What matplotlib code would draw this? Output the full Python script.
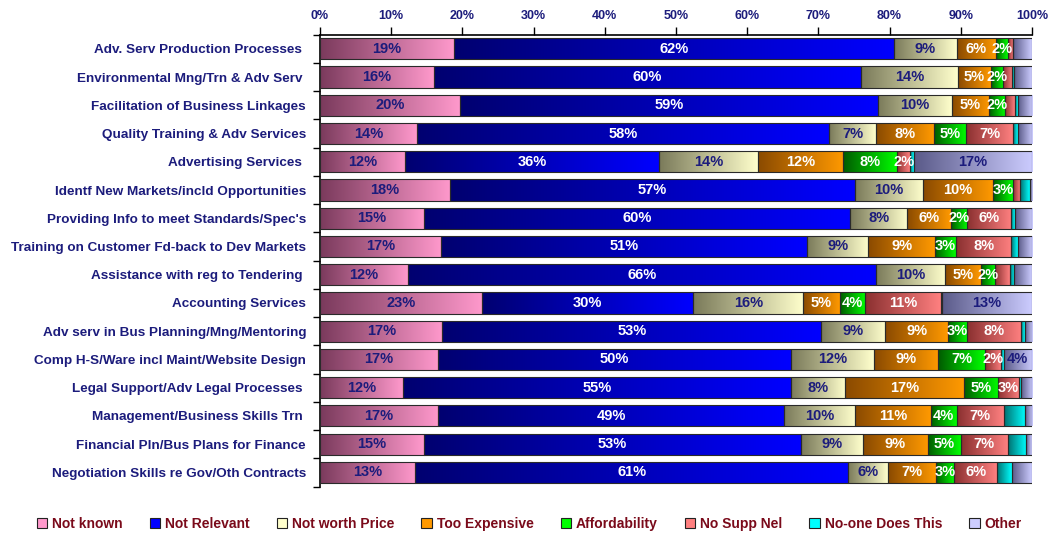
import numpy as np
import matplotlib
matplotlib.use("Agg")
import matplotlib.pyplot as plt
from matplotlib.colors import LinearSegmentedColormap
from matplotlib.patches import Patch

categories = [
    "Adv. Serv Production Processes ",
    "Environmental Mng/Trn & Adv Serv ",
    "Facilitation of Business Linkages",
    "Quality Training & Adv Services",
    "Advertising Services ",
    "Identf New Markets/incld Opportunities",
    "Providing Info to meet Standards/Spec's",
    "Training on Customer Fd-back to Dev Markets",
    "Assistance with reg to Tendering ",
    "Accounting Services",
    "Adv serv in Bus Planning/Mng/Mentoring",
    "Comp H-S/Ware incl Maint/Website Design",
    "Legal Support/Adv Legal Processes ",
    "Management/Business Skills Trn ",
    "Financial Pln/Bus Plans for Finance",
    "Negotiation Skills re Gov/Oth Contracts",
]

series = ["Not known", "Not Relevant", "Not worth Price", "Too Expensive",
          "Affordability", "No Supp Nel", "No-one Does This", "Other"]

# percentages per category, in the order of `categories`
not_known = [18.8, 16.0, 19.6, 13.6, 12.0, 18.3, 14.6, 17.0, 12.3, 22.8, 17.2, 16.6, 11.6, 16.6, 14.6, 13.4]
not_relevant = [61.8, 60.0, 58.8, 57.9, 35.6, 56.8, 59.8, 51.4, 65.8, 29.6, 53.2, 49.6, 54.6, 48.6, 53.0, 60.8]
not_worth = [8.8, 13.6, 10.3, 6.6, 13.9, 9.6, 8.1, 8.6, 9.7, 15.5, 9.0, 11.6, 7.6, 10.0, 8.6, 5.6]
too_expensive = [5.6, 4.6, 5.2, 8.1, 12.0, 9.8, 6.1, 9.4, 5.0, 5.1, 8.8, 9.0, 16.6, 10.6, 9.2, 6.7]
affordability = [1.6, 1.7, 2.3, 4.6, 7.6, 2.8, 2.3, 2.9, 2.0, 3.6, 2.7, 6.6, 4.8, 3.6, 4.6, 2.6]
no_supp = [0.8, 1.3, 1.4, 6.6, 1.8, 1.0, 6.2, 7.8, 2.1, 10.6, 7.6, 2.3, 3.0, 6.6, 6.6, 6.0]
no_one = [0.0, 0.3, 0.4, 0.6, 0.5, 1.4, 0.5, 0.9, 0.6, 0.2, 0.5, 0.3, 0.2, 3.0, 2.6, 2.1]
other = [2.6, 2.5, 2.0, 2.0, 16.6, 0.3, 2.4, 2.0, 2.5, 12.6, 1.0, 4.0, 1.6, 1.0, 0.8, 2.8]

values = [not_known, not_relevant, not_worth, too_expensive,
          affordability, no_supp, no_one, other]

# gradient ends (dark left, light right) and label colour for each series
dark = ["#7a3a5c", "#000070", "#7a7a5a", "#8a4a00", "#005a00", "#8a3030", "#007070", "#5a5a88"]
light = ["#ff99cc", "#0000ff", "#ffffcc", "#ff9900", "#00ff00", "#ff8080", "#00ffff", "#ccccff"]
navy = "#1c1c7c"
text_col = [navy, "white", navy, "white", "white", "white", "white", navy]

skip_labels = {(8, "No Supp Nel")}

plt.rcParams["font.family"] = ["Liberation Sans", "DejaVu Sans"]

fig = plt.figure(figsize=(10.48, 5.33), dpi=100)
ax = fig.add_axes([320 / 1048, 1 - 486.5 / 533, 712 / 1048, (486.5 - 34.7) / 533])

n = len(categories)
y = np.arange(n)
h = 0.75
left = np.zeros(n)
grad = np.linspace(0, 1, 256).reshape(1, -1)

for s, (name, vals) in enumerate(zip(series, values)):
    vals = np.asarray(vals, dtype=float)
    cmap = LinearSegmentedColormap.from_list(name, [dark[s], light[s]])
    bars = ax.barh(y, vals, left=left, height=h, facecolor="none",
                   edgecolor="#2a2a2a", linewidth=0.8, zorder=3)
    for i, bar in enumerate(bars):
        w = vals[i]
        if w <= 0:
            continue
        im = ax.imshow(grad, extent=(left[i], left[i] + w, i + h / 2, i - h / 2),
                       aspect="auto", cmap=cmap, interpolation="bilinear", zorder=2)
        im.set_clip_path(bar)
        show = w >= 1.5 and name != "No-one Does This" and (i, name) not in skip_labels
        if name == "Other" and w < 3.5:
            show = False
        if show:
            ax.text(left[i] + w / 2, i, f"{w:.0f}%", ha="center", va="center",
                    fontsize=10.5, fontweight="bold", color=text_col[s], zorder=4)
    left += vals

ax.set_xlim(0, 100)
ax.set_ylim(n - 0.5, -0.5)

ax.xaxis.tick_top()
ax.set_xticks(np.arange(0, 101, 10))
ax.set_xticklabels([f"{t}%" for t in range(0, 101, 10)], fontsize=9,
                   fontweight="bold", color=navy)
ax.tick_params(axis="x", length=6, width=1, pad=3, color="black")

ax.set_yticks(y)
ax.set_yticklabels(categories, fontsize=9.7, fontweight="bold", color=navy)
ax.tick_params(axis="y", which="major", length=0, pad=10)
ax.set_yticks(np.arange(-0.5, n, 1), minor=True)
ax.tick_params(axis="y", which="minor", length=5, width=1, direction="out")

for side in ("right", "bottom"):
    ax.spines[side].set_visible(False)
for side in ("top", "left"):
    ax.spines[side].set_linewidth(1.2)

handles = [Patch(facecolor=light[s], edgecolor="#222222", linewidth=0.8) for s in range(len(series))]
fig.legend(handles, series, loc="lower center", ncol=len(series),
           bbox_to_anchor=(0.505, -0.02), frameon=False,
           prop={"size": 10, "weight": "bold"},
           labelcolor="#7a0a1a", handlelength=0.75, handleheight=0.75,
           handletextpad=0.35, columnspacing=1.95)

fig.savefig("out.png", dpi=100)
